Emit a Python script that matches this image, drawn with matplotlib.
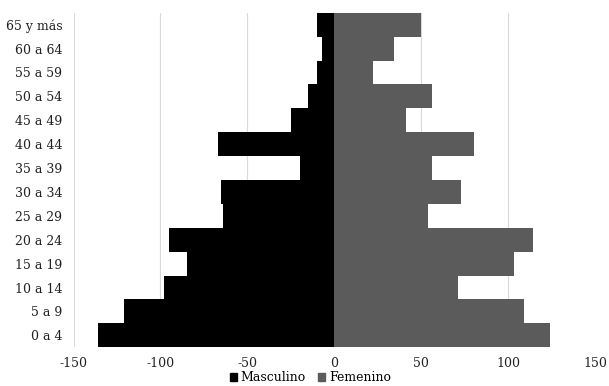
import matplotlib.pyplot as plt
from matplotlib.patches import Patch

grupos = ['0 a 4', '5 a 9', '10 a 14', '15 a 19', '20 a 24', '25 a 29', '30 a 34',
          '35 a 39', '40 a 44', '45 a 49', '50 a 54', '55 a 59', '60 a 64', '65 y más']
masculino = [-136, -121, -98, -85, -95, -64, -65, -20, -67, -25, -15, -10, -7, -10]
femenino = [124, 109, 71, 103, 114, 54, 73, 56, 80, 41, 56, 22, 34, 50]
ticks = [-150, -100, -50, 0, 50, 100, 150]

plt.rcParams['font.family'] = ['DejaVu Serif']

fig = plt.figure(figsize=(6.09, 3.86), dpi=100)
ax = fig.add_axes([0.1207, 0.1003, 0.8568, 0.8667])

pos = range(len(grupos))
ax.barh(pos, masculino, height=1.0, color='black', zorder=2)
ax.barh(pos, femenino, height=1.0, color='#5b5b5b', zorder=2)

ax.set_xlim(-150, 150)
ax.set_ylim(-0.5, len(grupos) - 0.5)
ax.set_xticks(ticks)
ax.set_xticklabels([str(t) for t in ticks])
ax.set_yticks(list(pos))
ax.set_yticklabels(grupos)
ax.tick_params(length=0, labelsize=9, colors='#222222')
ax.tick_params(axis='x', pad=7)
ax.tick_params(axis='y', pad=8)
ax.grid(axis='x', color='#d9d9d9', linewidth=0.8, zorder=0)
for s in ax.spines.values():
    s.set_visible(False)

handles = [Patch(color='black', label='Masculino'), Patch(color='#5b5b5b', label='Femenino')]
fig.legend(handles=handles, loc='lower center', bbox_to_anchor=(0.51, -0.025), ncol=2,
           frameon=False, fontsize=9, handlelength=0.55, handleheight=0.55,
           handletextpad=0.3, columnspacing=1.0)

fig.savefig('out.png', dpi=100)
